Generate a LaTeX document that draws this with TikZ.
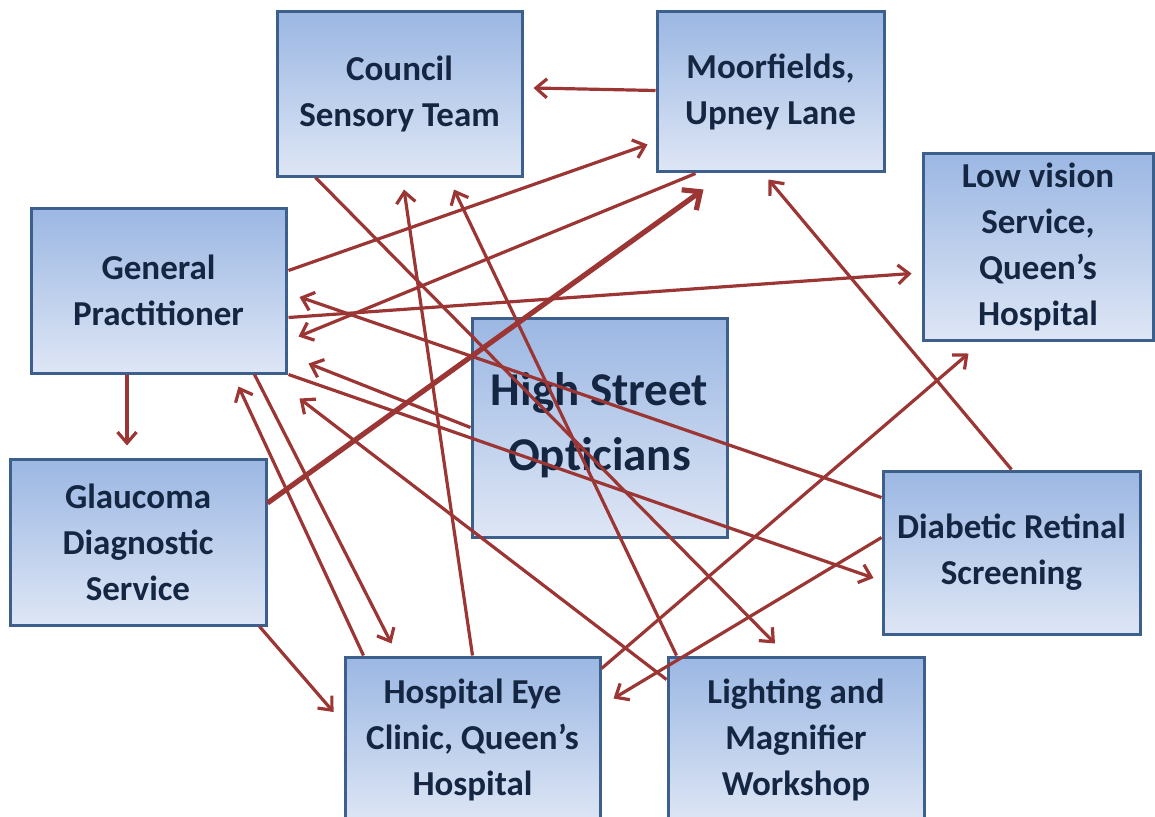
\documentclass[tikz,border=0pt]{standalone}
\usepackage{fontspec}
\setmainfont{Carlito}
\usetikzlibrary{arrows.meta,calc}

\definecolor{boxtop}{RGB}{155,183,227}
\definecolor{boxbot}{RGB}{222,230,245}
\definecolor{boxline}{RGB}{60,95,140}
\definecolor{boxtext}{RGB}{20,38,66}
\definecolor{linkred}{RGB}{155,54,52}

\tikzset{
  service/.style={rectangle, draw=boxline, line width=3pt, top color=boxtop, bottom color=boxbot,
    text=boxtext, align=center, inner sep=0pt, font=\fontsize{35}{46}\selectfont\bfseries},
  link/.style={draw=linkred, line width=3.2pt, -{Straight Barb[length=11pt,width=19pt]}},
  boldlink/.style={link, line width=5.2pt, -{Straight Barb[length=14pt,width=25pt]}}
}

\begin{document}
\begin{tikzpicture}[x=1pt,y=-1pt]
    \useasboundingbox (0,0) rectangle (1155,816);
    \clip (0,0) rectangle (1155,816);
    \node[service, minimum width=255pt, minimum height=219pt, text depth=12pt,
        font=\fontsize{47}{65}\selectfont\bfseries] (hso) at (599.5,427.5) {High Street\\Opticians};
    \node[service, minimum width=245pt, minimum height=164pt] (council) at (399.5,94) {Council\\Sensory Team};
    \node[service, minimum width=227pt, minimum height=159pt] (moor) at (770.5,91.5) {Moorfields,\\Upney Lane};
    \node[service, minimum width=230pt, minimum height=187pt] (lowvis) at (1038,246.5) {Low vision\\Service,\\Queen’s\\Hospital};
    \node[service, minimum width=255pt, minimum height=165pt] (gp) at (158.5,290.5) {General\\Practitioner};
    \node[service, minimum width=256pt, minimum height=166pt] (glauc) at (138,542) {Glaucoma\\Diagnostic\\Service};
    \node[service, minimum width=257pt, minimum height=163pt] (drs) at (1011.5,552.5) {Diabetic Retinal\\Screening};
    \node[service, minimum width=255pt, minimum height=166pt] (hec) at (472.5,740) {Hospital Eye\\Clinic, Queen’s\\Hospital};
    \node[service, minimum width=256pt, minimum height=166pt] (light) at (796,740) {Lighting and\\Magnifier\\Workshop};

    % referrals
    \draw[link] ($(moor.west)+(0,-1)$) -- ($(council.east)+(10,-6)$);
    \draw[link] ($(gp.east)+(1,-20)$) -- ($(moor.south west)+(-8,-28)$);
    \draw[link] ($(moor.south west)+(40,1)$) -- ($(gp.east)+(11,46)$);
    \draw[boldlink] ($(glauc.east)+(0,-39)$) -- ($(moor.south west)+(48,17)$);
    \draw[link] (drs.north) -- ($(moor.south)+(-2,7)$);
    \draw[link] ($(gp.east)+(1,27)$) -- ($(lowvis.west)+(-10,27)$);
    \draw[link] ($(drs.west)+(0,-55)$) -- ($(gp.east)+(12,6.5)$);
    \draw[link] (hso.west) -- ($(gp.south east)+(21,-11)$);
    \draw[link] ($(gp.south east)+(1,0)$) -- ($(drs.west)+(-8,25.5)$);
    \draw[link] ($(light.north west)+(0,24)$) -- ($(gp.south east)+(12,24)$);
    \draw[link] ($(gp.south)+(-31.5,0)$) -- ($(glauc.north)+(-11,-12)$);
    \draw[link] ($(glauc.south east)+(-8,0)$) -- ($(hec.west)+(-10,-28)$);
    \draw[link] ($(gp.south east)+(-33,0)$) -- ($(hec.north west)+(48,-12)$);
    \draw[link] ($(hec.north west)+(20,0)$) -- ($(gp.south east)+(-49,12)$);
    \draw[link] (hec.north) -- ($(council.south)+(4.5,12)$);
    \draw[link] ($(light.north west)+(10,0)$) -- ($(council.south)+(54.5,12)$);
    \draw[link] ($(council.south west)+(40,0)$) -- ($(light.north)+(-21,-12)$);
    \draw[link] ($(hec.north east)+(0,13)$) -- ($(lowvis.south west)+(47,12)$);
    \draw[link] ($(drs.west)+(0,-15)$) -- ($(hec.north east)+(12,43)$);
\end{tikzpicture}
\end{document}
